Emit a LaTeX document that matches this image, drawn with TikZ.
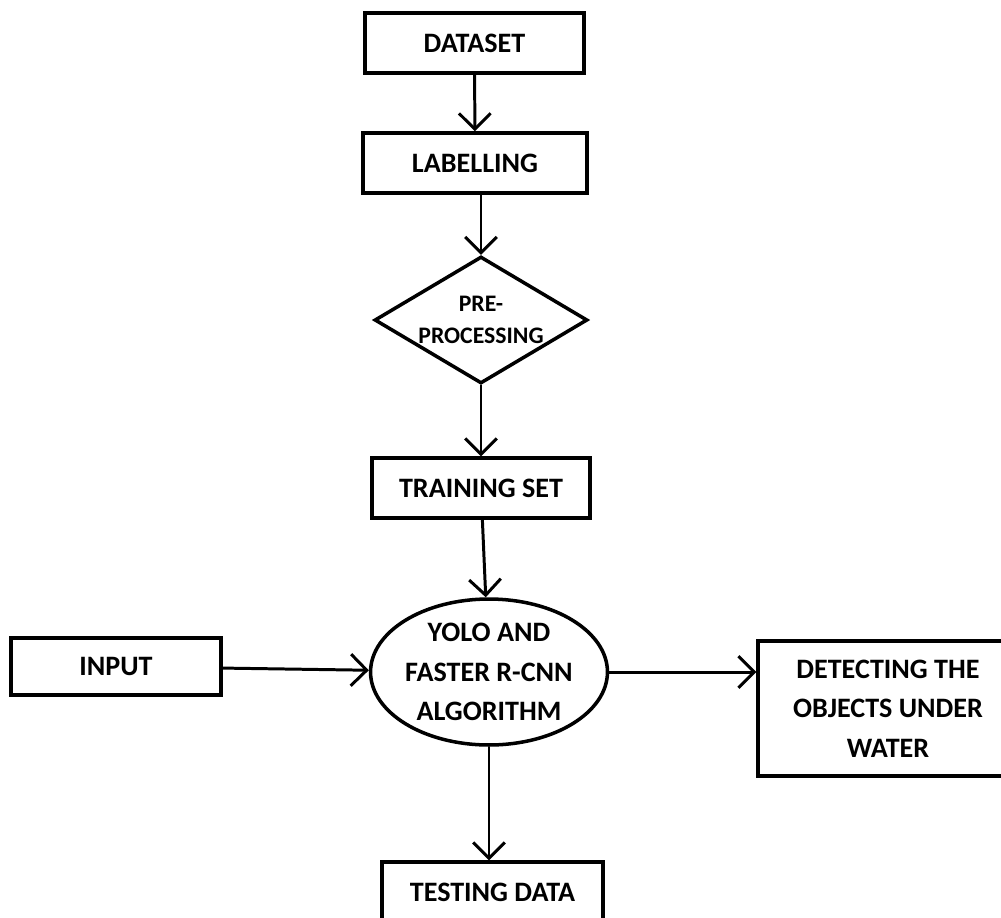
\documentclass[tikz,border=0pt]{standalone}
\usepackage{fontspec}
\setmainfont{Carlito}
\usetikzlibrary{shapes.geometric,arrows.meta}

\begin{document}
\begin{tikzpicture}[x=0.02cm,y=-0.02cm,
    box/.style={draw,line width=2pt,rectangle,inner sep=0pt,align=center,
      font=\bfseries\fontsize{16}{22.5}\selectfont},
    flow/.style={line width=1.7pt,-{Straight Barb[length=9pt,width=18pt,line width=1.7pt]}}]
    \useasboundingbox (0,0) rectangle (1001,917);
    \node[box,minimum width=4.38cm,minimum height=1.2cm] (dataset) at (474.5,43) {DATASET};
    \node[box,minimum width=4.48cm,minimum height=1.2cm] (labelling) at (475,163) {LABELLING};
    \node[box,shape=diamond,aspect=1.67,minimum width=4.26cm,minimum height=2.54cm,
      font=\bfseries\fontsize{13.5}{18}\selectfont] (prepro) at (481,320) {PRE-\\PROCESSING};
    \node[box,minimum width=4.36cm,minimum height=1.2cm] (training) at (481,488) {TRAINING SET};
    \node[box,shape=ellipse,minimum width=4.56cm,minimum height=2.92cm] (yolo) at (489,672)
      {YOLO AND\\FASTER R-CNN\\ALGORITHM};
    \node[box,minimum width=4.2cm,minimum height=1.14cm] (input) at (116,666.5) {INPUT};
    \node[box,minimum width=5.2cm,minimum height=2.7cm] (detect) at (888,708.5)
      {DETECTING THE\\OBJECTS UNDER\\WATER};
    \node[box,minimum width=4.42cm,minimum height=1.2cm] (testing) at (492.5,892) {TESTING DATA};
    \draw[flow] (dataset) -- (labelling);
    \draw[flow] (labelling.south -| prepro.north) -- (prepro.north);
    \draw[flow] (prepro) -- (training);
    \draw[flow] (training) -- (yolo);
    \draw[flow] (input) -- (yolo);
    \draw[flow] (yolo.east) -- (yolo.east -| detect.west);
    \draw[flow] (yolo.south) -- (yolo.south |- testing.north);
\end{tikzpicture}
\end{document}
